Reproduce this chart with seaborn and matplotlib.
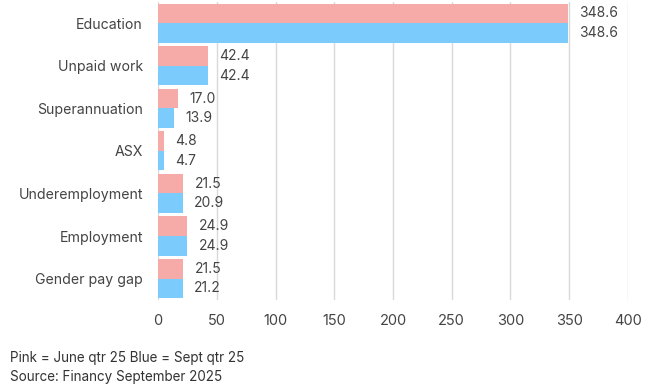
import matplotlib
matplotlib.use("Agg")
import matplotlib.pyplot as plt
import seaborn as sns
import pandas as pd

categories = ["Education", "Unpaid work", "Superannuation", "ASX",
              "Underemployment", "Employment", "Gender pay gap"]
june_qtr = [348.6, 42.4, 17.0, 4.8, 21.5, 24.9, 21.5]
sept_qtr = [348.6, 42.4, 13.9, 4.7, 20.9, 24.9, 21.2]
series_names = ["June qtr 25", "Sept qtr 25"]
x_ticks = [0, 50, 100, 150, 200, 250, 300, 350, 400]

df = pd.DataFrame({
    "category": categories * 2,
    "value": june_qtr + sept_qtr,
    "series": [series_names[0]] * len(categories) + [series_names[1]] * len(categories),
})

sns.set_theme(style="white")
plt.rcParams["font.family"] = ["Inter", "DejaVu Sans"]
text_color = "#444444"

fig = plt.figure(figsize=(6.48, 3.92), dpi=100)
ax = fig.add_axes([0.244, 0.235, 0.725, 0.76])

palette = {series_names[0]: "#F6ABA8", series_names[1]: "#7BCBFD"}
sns.barplot(data=df, y="category", x="value", hue="series", orient="h",
            palette=palette, width=0.92, ax=ax, legend=False, saturation=1,
            linewidth=0)

for c in ax.containers:
    ax.bar_label(c, labels=[f"{v:.1f}" for v in c.datavalues], padding=8,
                 fontsize=10, color=text_color)

ax.set_xlim(0, 400)
ax.set_ylim(6.5, -0.5)
ax.set_xticks(x_ticks)
ax.set_xticklabels([str(t) for t in x_ticks])
ax.xaxis.grid(True, color="#d9d9d9", linewidth=1)
ax.set_axisbelow(True)
for s in ax.spines.values():
    s.set_visible(False)
ax.set_xlabel("")
ax.set_ylabel("")
ax.tick_params(axis="x", colors=text_color, labelsize=10.5, length=0, pad=10)
ax.tick_params(axis="y", colors=text_color, labelsize=10.2, length=0, pad=11)

fig.text(0.015, 0.088, "Pink = June qtr 25 Blue = Sept qtr 25", fontsize=9.7,
         color="#333333", va="center")
fig.text(0.015, 0.037, "Source: Financy September 2025", fontsize=9.7,
         color="#333333", va="center")

fig.savefig("out.png", dpi=100)
